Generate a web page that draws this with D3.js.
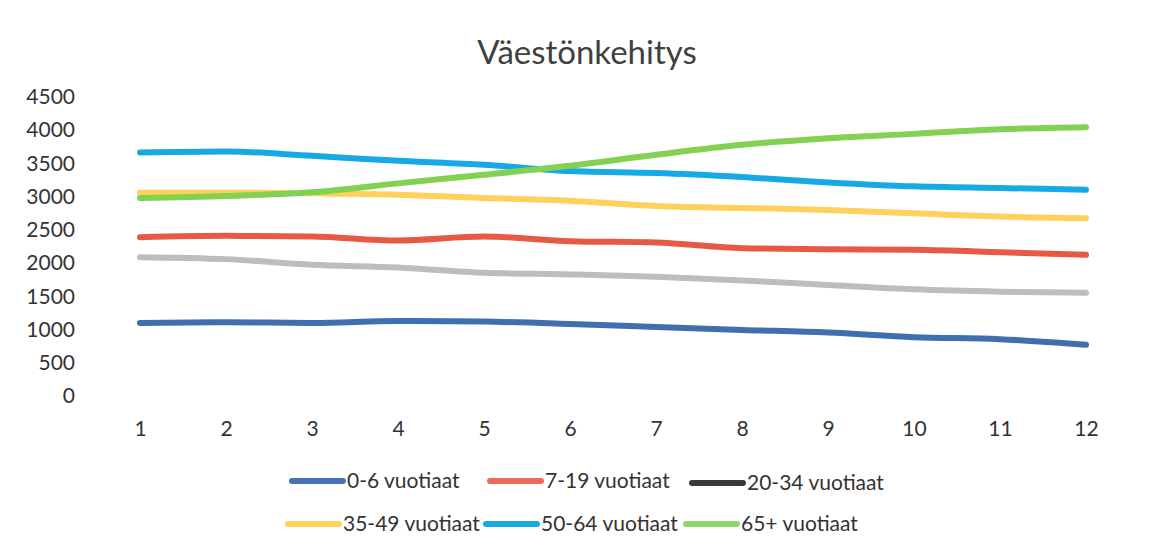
<!DOCTYPE html>
<html lang="fi">
<head>
    <meta charset="UTF-8">
    <title>Väestönkehitys</title>
    <script src="https://cdn.jsdelivr.net/npm/d3@7"></script>
    <style>
        body { margin: 0; background: #fff; }
        text { font-family: Lato, "Open Sans", sans-serif; fill: #333; }
    </style>
</head>
<body>
<div id="chart"></div>

<script>
    // Data
    var years = ["1", "2", "3", "4", "5", "6", "7", "8", "9", "10", "11", "12"];
    var seriesNames = ["0-6 vuotiaat", "7-19 vuotiaat", "20-34 vuotiaat",
                       "35-49 vuotiaat", "50-64 vuotiaat", "65+ vuotiaat"];
    var age0_6   = [1100, 1110, 1100, 1130, 1120, 1085, 1040, 995, 955, 885, 855, 770];
    var age7_19  = [2390, 2410, 2400, 2340, 2400, 2330, 2310, 2225, 2210, 2200, 2165, 2125];
    var age20_34 = [2090, 2060, 1975, 1935, 1855, 1830, 1795, 1740, 1670, 1605, 1570, 1555];
    var age35_49 = [3060, 3060, 3050, 3030, 2980, 2940, 2860, 2830, 2800, 2750, 2700, 2675];
    var age50_64 = [3665, 3680, 3615, 3540, 3480, 3385, 3355, 3295, 3215, 3155, 3130, 3105];
    var age65    = [2980, 3010, 3065, 3200, 3330, 3465, 3630, 3780, 3880, 3945, 4015, 4045];
    var yTicks = [0, 500, 1000, 1500, 2000, 2500, 3000, 3500, 4000, 4500];

    var allSeries = [age0_6, age7_19, age20_34, age35_49, age50_64, age65];
    var colors = ["#3f6fb0", "#e65a45", "#bdbdbd", "#fdd15a", "#16a9e6", "#82d152"];
    var legendColors = ["#4872b3", "#ee6a5c", "#3a3a3a", "#fdd35a", "#16a9e6", "#8fd66a"];

    var W = 1150, H = 557;
    var svg = d3.select("#chart").append("svg")
        .attr("width", W).attr("height", H);

    var x = d3.scalePoint().domain(years).range([140, 1086]);
    var y = d3.scaleLinear().domain([0, 4500]).range([396, 97]);

    // title
    svg.append("text")
        .attr("x", 587).attr("y", 64)
        .attr("text-anchor", "middle")
        .style("font-size", "33px")
        .style("fill", "#404040")
        .text("Väestönkehitys");

    // y axis labels
    var yAxis = d3.axisLeft(y).tickValues(yTicks).tickFormat(d3.format("d"))
        .tickSize(0).tickPadding(0);
    var gy = svg.append("g").attr("transform", "translate(75,0)").call(yAxis);
    gy.select(".domain").remove();
    gy.selectAll("text")
        .style("font-size", "21px")
        .style("font-family", "Lato, sans-serif")
        .style("fill", "#333");

    // x axis labels
    var xAxis = d3.axisBottom(x).tickSize(0).tickPadding(0);
    var gx = svg.append("g").attr("transform", "translate(0,421)").call(xAxis);
    gx.select(".domain").remove();
    gx.selectAll("text")
        .style("font-size", "21px")
        .style("font-family", "Lato, sans-serif")
        .style("fill", "#333");

    // lines
    var line = d3.line()
        .x(function(d, i) { return x(years[i]); })
        .y(function(d) { return y(d); })
        .curve(d3.curveMonotoneX);

    svg.selectAll("path.series")
        .data(allSeries)
        .enter().append("path")
        .attr("class", "series")
        .attr("d", line)
        .attr("fill", "none")
        .attr("stroke", function(d, i) { return colors[i]; })
        .attr("stroke-width", 6)
        .attr("stroke-linecap", "round")
        .attr("stroke-linejoin", "round");

    // legend
    var legendPos = [
        {x: 290, y: 481}, {x: 488, y: 481}, {x: 690, y: 483},
        {x: 286, y: 524}, {x: 484, y: 524}, {x: 684, y: 524}
    ];
    var lg = svg.selectAll("g.legend")
        .data(seriesNames)
        .enter().append("g")
        .attr("class", "legend")
        .attr("transform", function(d, i) {
            return "translate(" + legendPos[i].x + "," + legendPos[i].y + ")";
        });
    lg.append("line")
        .attr("x1", 2).attr("x2", 53)
        .attr("y1", 0).attr("y2", 0)
        .attr("stroke", function(d, i) { return legendColors[i]; })
        .attr("stroke-width", 6)
        .attr("stroke-linecap", "round");
    lg.append("text")
        .attr("x", 57).attr("y", 7)
        .style("font-size", "21px")
        .style("fill", "#333")
        .text(function(d) { return d; });
</script>
</body>
</html>
